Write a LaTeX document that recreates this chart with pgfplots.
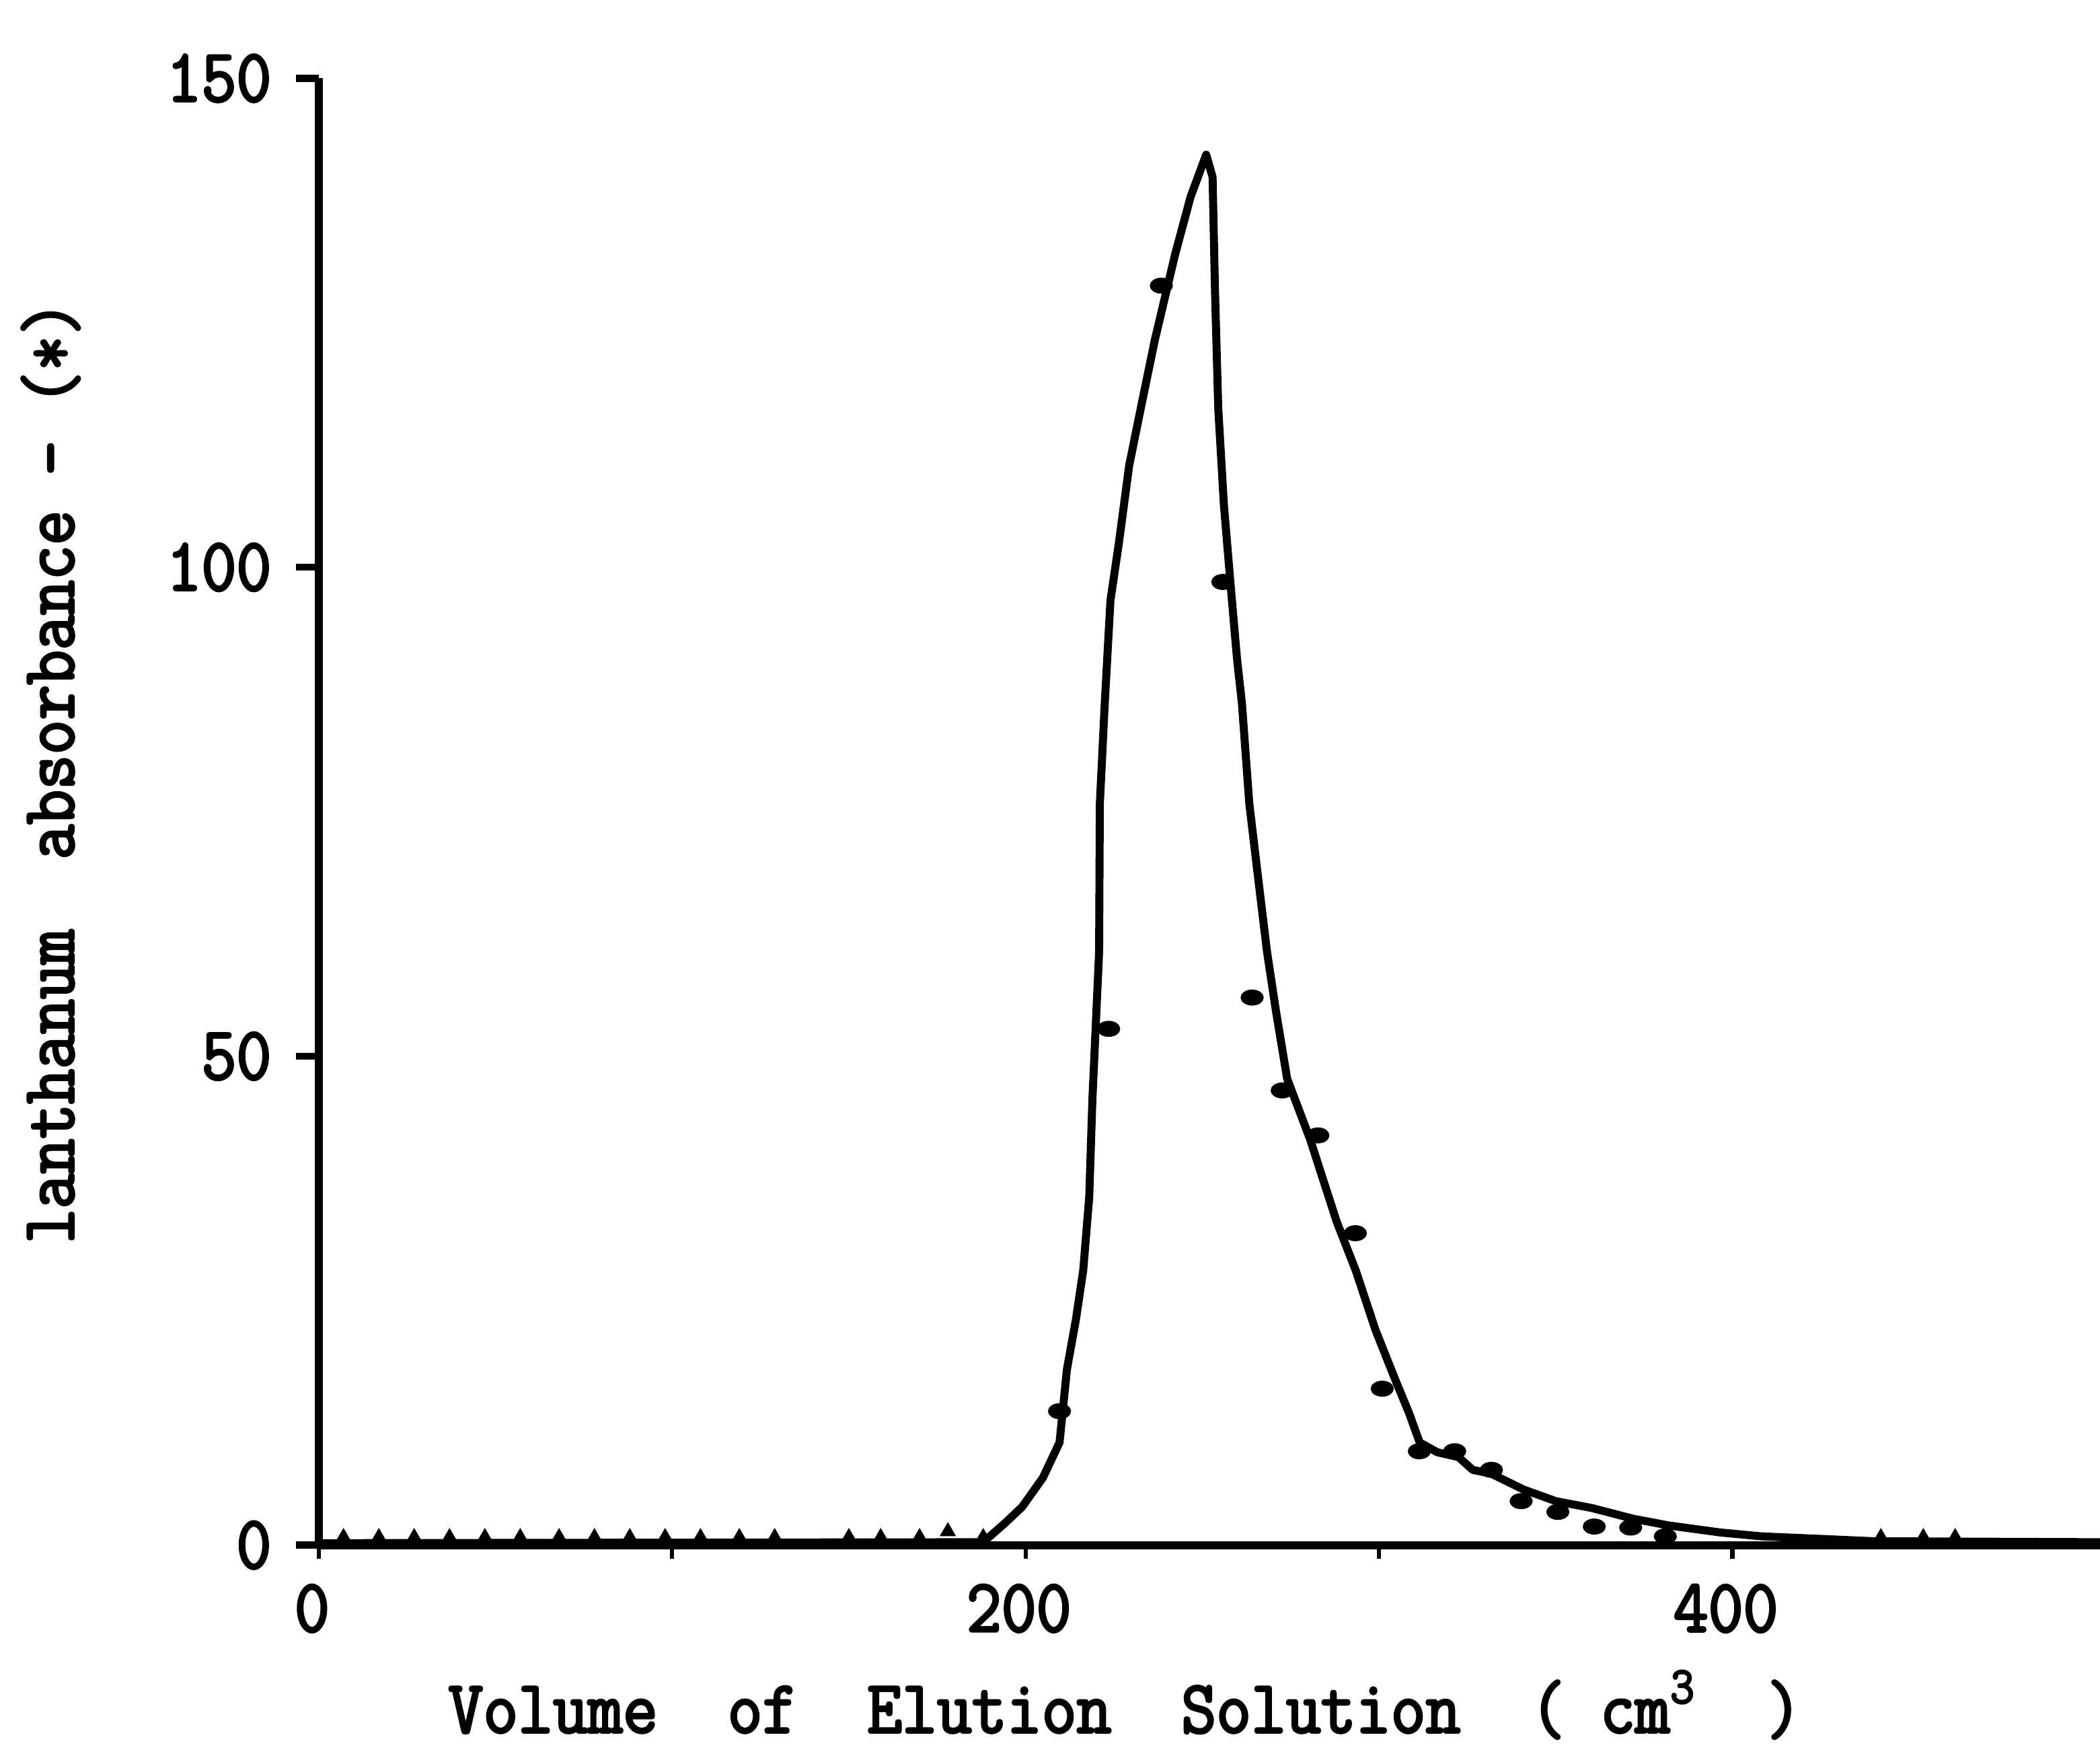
\documentclass[border=0pt]{standalone}
\usepackage{fontspec}
\setmainfont{Latin Modern Mono}[FakeStretch=0.9, FakeBold=3]
\usepackage{pgfplots}
\pgfplotsset{compat=1.18}

\begin{document}
\begin{tikzpicture}
  \begin{axis}[
      name=ax,
      scale only axis,
      width=13.30cm,
      height=10.95cm,
      xmin=0, xmax=504,
      ymin=0, ymax=150,
      axis x line*=bottom,
      axis y line*=left,
      axis line style={-, line width=1.7pt},
      font=\fontsize{16}{18}\selectfont,
      /pgf/number format/assume math mode=true,
      tick align=outside,
      xtick={0,100,200,300,400},
      xticklabels={0,,200,,400},
      ytick={0,50,100,150},
      major tick length=0.17cm,
      x tick style={black, line width=0.9pt, /pgfplots/major tick length=0.1cm},
      y tick style={black, line width=1.5pt},
      xticklabel style={xshift=-0.05cm},
      yticklabel style={xshift=-0.06cm},
      xlabel={Volume\ \ of\ \ Elution\ \ Solution\ \ (\ cm\textsuperscript{3}\ \ )},
      xlabel style={at={(axis description cs:0.0722,0)}, anchor=base west,
        yshift=-1.40cm, inner sep=0pt},
      ylabel={lanthanum\ \ absorbance\ -\ (*)},
      ylabel style={at={(axis description cs:-0.1376,0.205)}, anchor=base west,
        inner sep=0pt},
      clip=false,
    ]
    % elution curve
    \addplot[black, line width=1.7pt, line join=round] coordinates {
        (0,0.2) (188,0.3) (194,2.2) (199,3.9) (204.9,6.9) (209.6,10.5)
        (211.7,18) (214.2,23) (216.3,28.1) (218,35.6) (218.9,45.6)
        (220.8,60.7) (221,75.8) (222.4,86.1) (224,96.6) (226.4,102.5)
        (229.3,110.4) (233,117) (236.6,123.3) (242.3,132) (246.7,137.9)
        (251.1,142.2) (252.9,139.9) (253.6,128.1) (254.5,116.3) (256.1,106.4)
        (258,98.2) (259.8,90.7) (261.2,86.1) (263.3,75.8) (265.8,68.2)
        (268.3,60.7) (270.8,54.7) (274,47.7) (280.5,41.5) (288,33.1)
        (293.5,28) (299,22) (304.5,17) (308.5,13.5) (311.5,10.5)
        (316.5,9.5) (322.5,9) (326.5,7.7) (331.8,7.3) (340.8,5.7)
        (350,4.5) (360.2,3.8) (371.9,2.7) (382.2,2) (396.5,1.3)
        (408.2,0.9) (427.6,0.6) (440,0.4) (504,0.3)
      };
    % measured points
    \addplot[only marks, mark=*, mark size=1.5pt, mark options={xscale=1.5}] coordinates {
        (209.6,13.7) (223.5,52.8) (238.4,128.8) (255.8,98.5) (264.1,56)
        (272.6,46.5) (282.7,41.9) (293.3,31.9) (300.9,16) (311.4,9.6)
        (321.4,9.6) (331.8,7.7) (340.2,4.5) (350.6,3.4) (360.9,1.9)
        (371.2,1.8) (381,0.9)
      };
    % baseline points
    \addplot[only marks, mark=triangle*, mark size=1.6pt] coordinates {
        (7,0.8) (17,0.8) (27,0.8) (37,0.8) (47,0.8) (57,0.8) (68,0.8)
        (78,0.8) (88,0.8) (98,0.8) (108,0.8) (119,0.8) (129,0.8) (150,0.8)
        (159,0.8) (170,0.8) (178,1.4) (188,0.8) (442,0.8) (454,0.8) (463,0.8)
      };
  \end{axis}
  \pgfresetboundingbox
  \path[use as bounding box] ([xshift=-2.38cm,yshift=-1.63cm]ax.south west)
    rectangle ([yshift=0.585cm]ax.north east);
\end{tikzpicture}
\end{document}
